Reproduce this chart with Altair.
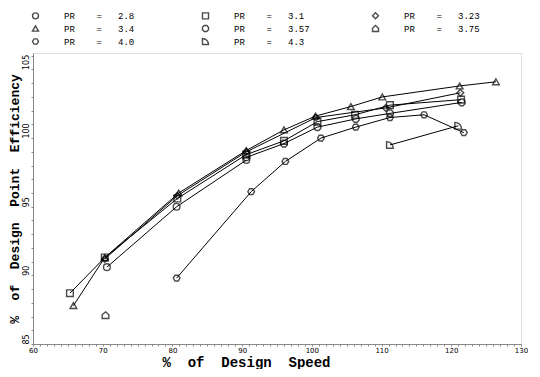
import altair as alt
import pandas as pd

# Series (pressure ratio) labels
pr_values = ["2.8", "3.1", "3.23", "3.4", "3.57", "3.75", "4.0", "4.3"]

# % of design speed / % of design point efficiency
speed_28 = [70.6, 80.6, 90.6]
eff_28 = [90.6, 95.0, 98.4]

speed_31 = [65.3, 70.3, 80.7, 90.6, 96.0, 100.8, 106.2, 111.2, 121.4]
eff_31 = [88.7, 91.3, 95.6, 98.8, 99.8, 101.2, 101.7, 102.4, 102.8]

speed_323 = [70.3, 80.7, 90.6, 100.6, 110.6, 121.3]
eff_323 = [91.2, 95.8, 99.0, 101.5, 102.2, 103.3]

speed_34 = [65.8, 70.3, 80.9, 90.6, 96.0, 100.5, 105.6, 110.1, 121.2, 126.4]
eff_34 = [87.8, 91.3, 96.0, 99.1, 100.6, 101.6, 102.3, 103.0, 103.8, 104.1]

speed_357 = [90.6, 96.0, 100.8, 106.3, 111.2, 121.5]
eff_357 = [98.6, 99.6, 100.8, 101.4, 101.8, 102.6]

speed_375 = [70.4]
eff_375 = [87.1]

speed_40 = [80.6, 91.3, 96.2, 101.3, 106.3, 111.2, 116.1, 121.8]
eff_40 = [89.8, 96.1, 98.3, 100.0, 100.8, 101.5, 101.7, 100.4]

speed_43 = [111.2, 121.0]
eff_43 = [99.5, 100.9]

# Marker shapes for each series
shape_paths = [
    "circle",
    "square",
    "diamond",
    "triangle-up",
    "M-0.41,-1L0.41,-1L1,-0.41L1,0.41L0.41,1L-0.41,1L-1,0.41L-1,-0.41Z",
    "M0,-1L1,-0.1L1,1L-1,1L-1,-0.1Z",
    "M-0.5,-0.87L0.5,-0.87L1,0L0.5,0.87L-0.5,0.87L-1,0Z",
    "M-1,-1L-1,1L1,1A2,2 0 0 0 -1,-1Z",
]

# Axis tick values
x_ticks = list(range(60, 131))
y_ticks = list(range(85, 107))

NB = "\u00a0"
series = [
    (pr_values[0], speed_28, eff_28),
    (pr_values[1], speed_31, eff_31),
    (pr_values[2], speed_323, eff_323),
    (pr_values[3], speed_34, eff_34),
    (pr_values[4], speed_357, eff_357),
    (pr_values[5], speed_375, eff_375),
    (pr_values[6], speed_40, eff_40),
    (pr_values[7], speed_43, eff_43),
]


def pr_label(v):
    return "PR" + NB * 4 + "=" + NB * 3 + v


legend_labels = [pr_label(v) for v in pr_values]

rows = []
for v, xs, ys in series:
    for i, (xv, yv) in enumerate(zip(xs, ys)):
        rows.append({"pr": pr_label(v), "speed": xv, "eff": yv, "idx": i})
df = pd.DataFrame(rows)

x_enc = alt.X(
    "speed:Q",
    scale=alt.Scale(domain=[60, 130], nice=False, zero=False),
    axis=alt.Axis(
        values=x_ticks,
        labelExpr="datum.value % 10 === 0 ? datum.label : ''",
        labelOverlap=False,
        labelFlush=False,
        labelBound=False,
        grid=False,
        tickSize=2,
        labelFontSize=7,
        labelPadding=0,
        labelFont="DejaVu Sans",
        title="%" + NB * 2 + "of" + NB * 2 + "Design" + NB * 2 + "Speed",
        titleFont="Liberation Mono",
        titleFontSize=14,
        titleFontWeight="bold",
        titleX=213,
        titleY=11,
        titleAlign="center",
        titleBaseline="top",
    ),
)
y_enc = alt.Y(
    "eff:Q",
    scale=alt.Scale(domain=[85, 106.2], nice=False, zero=False),
    axis=alt.Axis(
        values=y_ticks,
        labelExpr="datum.value % 5 === 0 ? datum.label : ''",
        labelOverlap=False,
        labelFlush=False,
        grid=False,
        tickSize=2,
        labelFontSize=8,
        labelPadding=1,
        labelFont="DejaVu Sans",
        labelAngle=270,
        labelAlign="left",
        labelBaseline="bottom",
        title="%" + NB * 2 + "of" + NB * 2 + "Design" + NB * 2 + "Point" + NB * 2 + "Efficiency",
        titleFont="Liberation Mono",
        titleFontSize=13,
        titleFontWeight="bold",
        titlePadding=1,
    ),
)

lines = alt.Chart(df).mark_line(color="black", strokeWidth=1).encode(
    x=x_enc, y=y_enc, detail="pr:N", order="idx:Q"
)

points = alt.Chart(df).mark_point(filled=False, size=45, strokeWidth=1.4, color="black").encode(
    x=x_enc,
    y=y_enc,
    shape=alt.Shape(
        "pr:N",
        scale=alt.Scale(domain=legend_labels, range=shape_paths),
        legend=alt.Legend(
            title=None,
            orient="none",
            direction="horizontal",
            legendX=-2,
            legendY=-42,
            columns=3,
            gridAlign="all",
            columnPadding=59,
            rowPadding=0,
            padding=0,
            labelFont="Liberation Mono",
            labelFontSize=9,
            labelOffset=24,
            labelColor="black",
            symbolSize=36,
            symbolStrokeColor="black",
            symbolFillColor="white",
            symbolStrokeWidth=1.4,
        ),
    ),
)

chart = (
    alt.layer(lines, points)
    .properties(
        width=520,
        height=361,
        padding={"left": 0, "top": 45, "right": 0, "bottom": 0},
        autosize=alt.AutoSizeParams(type="fit", contains="padding"),
    )
    .configure_view(stroke=None)
    .configure_axis(domainColor="black", tickColor="black", labelColor="black", titleColor="black")
    .configure(background="white")
)

chart.save("out.html", embed_options={"renderer": "svg", "actions": False})
